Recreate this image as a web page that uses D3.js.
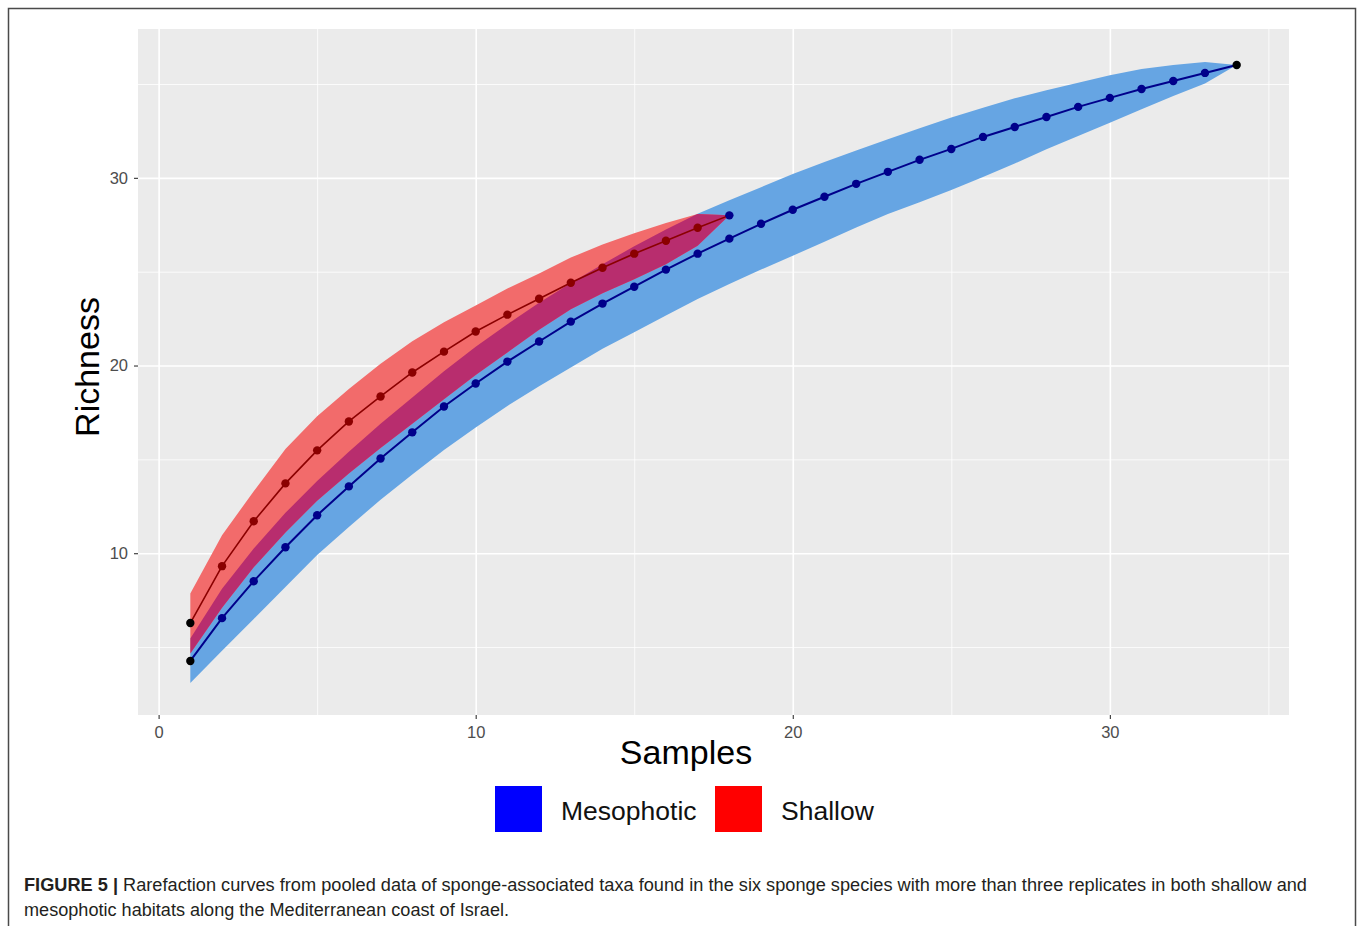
<!DOCTYPE html>
<html>
<head>
<meta charset="utf-8">
<script src="https://cdn.jsdelivr.net/npm/d3@7"></script>
<style>
  body { margin: 0; background: #fff; }
  svg { display: block; font-family: "Liberation Sans", Arial, sans-serif; }
</style>
</head>
<body>
<svg id="chart" width="1358" height="926"></svg>
<script>
// Rarefaction curves (sample-based) for the two habitats

const mesoSamples = [1, 2, 3, 4, 5, 6, 7, 8, 9, 10, 11, 12, 13, 14, 15, 16, 17,
  18, 19, 20, 21, 22, 23, 24, 25, 26, 27, 28, 29, 30, 31, 32, 33, 34];
const mesoRichness = [4.26, 6.54, 8.51, 10.32, 12.02, 13.56, 15.05, 16.44, 17.82, 19.04,
  20.21, 21.28, 22.34, 23.30, 24.20, 25.11, 25.96, 26.76, 27.55, 28.30, 28.99, 29.68,
  30.32, 30.96, 31.54, 32.18, 32.71, 33.24, 33.78, 34.26, 34.73, 35.16, 35.59, 36.01];
const mesoLower = [3.09, 4.8, 6.5, 8.2, 9.9, 11.4, 12.85, 14.2, 15.5, 16.7, 17.85, 18.9,
  19.9, 20.89, 21.77, 22.66, 23.55, 24.35, 25.11, 25.85, 26.6, 27.36, 28.07, 28.7, 29.35,
  30.05, 30.76, 31.52, 32.23, 32.94, 33.65, 34.36, 35.02, 36.01];
const mesoUpper = [5.46, 8.1, 10.25, 12.15, 13.85, 15.4, 16.9, 18.3, 19.7, 21.0, 22.2,
  23.35, 24.4, 25.4, 26.35, 27.25, 28.08, 28.8, 29.5, 30.2, 30.85, 31.45, 32.05, 32.64,
  33.21, 33.74, 34.24, 34.67, 35.07, 35.46, 35.8, 36.01, 36.17, 36.01];

const shallowSamples = [1, 2, 3, 4, 5, 6, 7, 8, 9, 10, 11, 12, 13, 14, 15, 16, 17, 18];
const shallowRichness = [6.28, 9.31, 11.70, 13.72, 15.48, 17.02, 18.35, 19.63, 20.74,
  21.81, 22.71, 23.56, 24.41, 25.21, 25.96, 26.65, 27.34, 28.0];
const shallowLower = [4.66, 7.1, 9.25, 11.1, 12.8, 14.25, 15.6, 16.9, 18.2, 19.5, 20.7,
  21.9, 23.0, 23.85, 24.6, 25.4, 26.38, 28.0];
const shallowUpper = [7.86, 10.96, 13.3, 15.55, 17.3, 18.75, 20.1, 21.3, 22.3, 23.2,
  24.1, 24.9, 25.75, 26.45, 27.05, 27.6, 28.07, 28.0];

const xTicks = [0, 10, 20, 30];
const yTicks = [10, 20, 30];
const legendLabels = ["Mesophotic", "Shallow"];

const captionBold = "FIGURE 5 |";
const captionLines = [
  "Rarefaction curves from pooled data of sponge-associated taxa found in the six sponge species with more than three replicates in both shallow and",
  "mesophotic habitats along the Mediterranean coast of Israel."
];

const svg = d3.select("#chart");

// figure frame
svg.append("rect")
  .attr("x", 8.5).attr("y", 8.5)
  .attr("width", 1347).attr("height", 1000)
  .attr("fill", "none")
  .attr("stroke", "#4a4a4a")
  .attr("stroke-width", 1.5);

const panel = {left: 138, top: 29, right: 1289, bottom: 715};

// ggplot style 5% expansion on both axes
const x = d3.scaleLinear().domain([-0.65, 35.65]).range([panel.left, panel.right]);
const y = d3.scaleLinear().domain([1.38, 37.93]).range([panel.bottom, panel.top]);

svg.append("rect")
  .attr("x", panel.left).attr("y", panel.top)
  .attr("width", panel.right - panel.left)
  .attr("height", panel.bottom - panel.top)
  .attr("fill", "#ebebeb");

const minorX = xTicks.map(d => d + 5);
const minorY = [5].concat(yTicks.map(d => d + 5));

// grid lines, drawn with the axes so they follow the scales
function grid(axis, values, width) {
  return g => g.call(axis.tickValues(values).tickFormat(""))
    .call(g => g.select(".domain").remove())
    .call(g => g.selectAll("line").attr("stroke", "#fff").attr("stroke-width", width));
}

const innerW = panel.right - panel.left;
const innerH = panel.bottom - panel.top;

svg.append("g").attr("transform", `translate(0,${panel.bottom})`)
  .call(grid(d3.axisBottom(x).tickSize(-innerH), minorX, 0.8));
svg.append("g").attr("transform", `translate(${panel.left},0)`)
  .call(grid(d3.axisLeft(y).tickSize(-innerW), minorY, 0.8));
svg.append("g").attr("transform", `translate(0,${panel.bottom})`)
  .call(grid(d3.axisBottom(x).tickSize(-innerH), xTicks, 1.6));
svg.append("g").attr("transform", `translate(${panel.left},0)`)
  .call(grid(d3.axisLeft(y).tickSize(-innerW), yTicks, 1.6));

// ribbons
const mesoBand = mesoSamples.map((s, i) => ({s, lo: mesoLower[i], hi: mesoUpper[i]}));
const shallowBand = shallowSamples.map((s, i) => ({s, lo: shallowLower[i], hi: shallowUpper[i]}));

const area = d3.area()
  .x(d => x(d.s))
  .y0(d => y(d.lo))
  .y1(d => y(d.hi));

svg.append("clipPath").attr("id", "mesoClip")
  .append("path").attr("d", area(mesoBand));

svg.append("path").attr("d", area(mesoBand)).attr("fill", "#66a5e3");
svg.append("path").attr("d", area(shallowBand)).attr("fill", "#f26b6b");
// where the two ribbons overlap
svg.append("path").attr("d", area(shallowBand))
  .attr("clip-path", "url(#mesoClip)")
  .attr("fill", "#b82d6e");

// mean curves
const line = d3.line().x(d => x(d.s)).y(d => y(d.r));

const mesoPts = mesoSamples.map((s, i) => ({s, r: mesoRichness[i]}));
const shallowPts = shallowSamples.map((s, i) => ({s, r: shallowRichness[i]}));

svg.append("path").attr("d", line(shallowPts))
  .attr("fill", "none").attr("stroke", "#8b0000").attr("stroke-width", 1.6);
svg.append("path").attr("d", line(mesoPts))
  .attr("fill", "none").attr("stroke", "#00008b").attr("stroke-width", 2);

function dots(data, colour, lastColour) {
  svg.append("g").selectAll("circle").data(data).enter()
    .append("circle")
    .attr("cx", d => x(d.s))
    .attr("cy", d => y(d.r))
    .attr("r", 4.2)
    .attr("fill", (d, i) => i === 0 ? "#000" : (i === data.length - 1 ? lastColour : colour));
}

dots(shallowPts, "#8b0000", "#00008b");
dots(mesoPts, "#00008b", "#000");

// axes
const xAxis = svg.append("g").attr("transform", `translate(0,${panel.bottom})`)
  .call(d3.axisBottom(x).tickValues(xTicks).tickSize(4).tickPadding(7));
const yAxis = svg.append("g").attr("transform", `translate(${panel.left},0)`)
  .call(d3.axisLeft(y).tickValues(yTicks).tickSize(4).tickPadding(6));

[xAxis, yAxis].forEach(a => {
  a.attr("font-size", null).attr("font-family", null);
  a.select(".domain").remove();
  a.selectAll("line").attr("stroke", "#333").attr("stroke-width", 1.1);
  a.selectAll("text").attr("fill", "#4d4d4d")
    .attr("font-size", 16.5)
    .attr("font-family", "'Liberation Sans', Arial, sans-serif");
});

svg.append("text")
  .attr("x", 686).attr("y", 764)
  .attr("text-anchor", "middle")
  .style("font-size", "34px")
  .text("Samples");

svg.append("text")
  .attr("transform", "translate(99,367) rotate(-90)")
  .attr("text-anchor", "middle")
  .style("font-size", "34px")
  .text("Richness");

// legend
const legendColours = ["#0000ff", "#ff0000"];
const legendX = [495, 715];

legendLabels.forEach((lab, i) => {
  svg.append("rect")
    .attr("x", legendX[i]).attr("y", 786)
    .attr("width", 47).attr("height", 46)
    .attr("fill", legendColours[i]);
  svg.append("text")
    .attr("x", legendX[i] + 66).attr("y", 820)
    .style("font-size", "26.5px")
    .attr("fill", "#111")
    .text(lab);
});

// caption
const cap1 = svg.append("text")
  .attr("x", 24).attr("y", 891)
  .attr("textLength", 1283)
  .attr("lengthAdjust", "spacingAndGlyphs")
  .style("font-size", "17.5px")
  .attr("fill", "#231f20");
cap1.append("tspan").style("font-weight", "bold").text(captionBold + " ");
cap1.append("tspan").text(captionLines[0]);

svg.append("text")
  .attr("x", 24).attr("y", 916)
  .attr("textLength", 485)
  .attr("lengthAdjust", "spacingAndGlyphs")
  .style("font-size", "17.5px")
  .attr("fill", "#231f20")
  .text(captionLines[1]);
</script>
</body>
</html>
